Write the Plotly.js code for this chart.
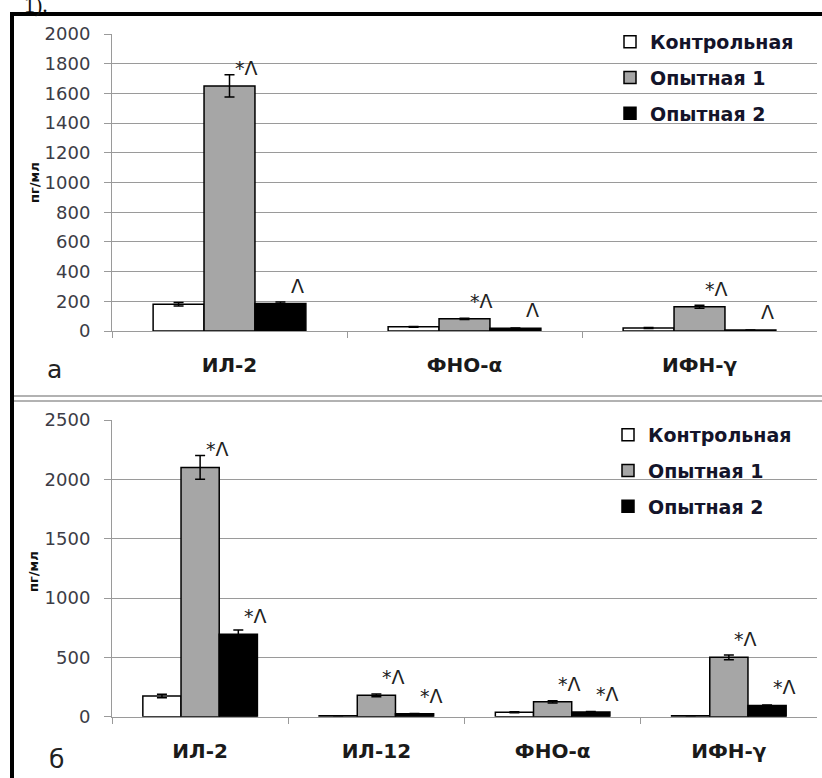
<!DOCTYPE html>
<html>
<head>
<meta charset="utf-8">
<script src="https://cdn.plot.ly/plotly-3.0.1.min.js"></script>
<style>html,body{margin:0;padding:0;background:#fff;}#chart{width:822px;height:778px;}</style>
</head>
<body>
<div id="chart"></div>
<script>
// ---- data ----
const seriesNames = ["Контрольная", "Опытная 1", "Опытная 2"];

const catsA = ["ИЛ-2", "ФНО-α", "ИФН-γ"];
const ctrlA = [180, 28, 20];
const ctrlAErr = [12, 3, 3];
const op1A = [1650, 82, 163];
const op1AErr = [75, 4, 10];
const op2A = [185, 18, 6];
const op2AErr = [10, 2, 1];
const sigA1 = ["*Λ", "*Λ", "*Λ"];
const sigA2 = ["Λ", "Λ", "Λ"];

const catsB = ["ИЛ-2", "ИЛ-12", "ФНО-α", "ИФН-γ"];
const ctrlB = [175, 8, 37, 8];
const ctrlBErr = [15, 1, 4, 1];
const op1B = [2100, 180, 125, 500];
const op1BErr = [100, 12, 10, 20];
const op2B = [695, 25, 40, 95];
const op2BErr = [35, 2, 3, 4];
const sigB1 = ["*Λ", "*Λ", "*Λ", "*Λ"];
const sigB2 = ["*Λ", "*Λ", "*Λ", "*Λ"];

const yTitle = "пг/мл";
const panelLabels = ["а", "б"];

// ---- helpers ----
const W = 822, H = 778;
const px = x => x / W;
const py = y => 1 - y / H;
const FONT = "DejaVu Sans, Verdana, sans-serif";
const BARGAP = 0.35;
const fills = ["#ffffff", "#a6a6a6", "#000000"];

function mkTrace(cats, vals, errs, k, panel) {
  const isB = panel === "b";
  return {
    type: "bar",
    x: cats,
    y: vals,
    name: seriesNames[k],
    xaxis: isB ? "x2" : "x",
    yaxis: isB ? "y2" : "y",
    legend: isB ? "legend2" : "legend",
    legendgroup: panel + k,
    marker: { color: fills[k], line: { color: "#000", width: 1.5 } },
    error_y: { type: "data", array: errs, visible: true, color: "#000", thickness: 1.5, width: 5 },
    hoverinfo: "x+y+name"
  };
}

const data = [
  mkTrace(catsA, ctrlA, ctrlAErr, 0, "a"),
  mkTrace(catsA, op1A, op1AErr, 1, "a"),
  mkTrace(catsA, op2A, op2AErr, 2, "a"),
  mkTrace(catsB, ctrlB, ctrlBErr, 0, "b"),
  mkTrace(catsB, op1B, op1BErr, 1, "b"),
  mkTrace(catsB, op2B, op2BErr, 2, "b")
];

const annotations = [];
const w = (1 - BARGAP) / 3;
function addSig(vals, labels, k, xref, yref) {
  vals.forEach((v, i) => {
    annotations.push({
      xref: xref, yref: yref, x: i + (k - 1) * w, y: v,
      text: labels[i], showarrow: false, yanchor: "bottom", xanchor: "center",
      xshift: 17, yshift: 5,
      font: { family: FONT, size: 19, color: "#222" }
    });
  });
}
addSig(op1A, sigA1, 1, "x", "y");
addSig(op2A, sigA2, 2, "x", "y");
addSig(op1B, sigB1, 1, "x2", "y2");
addSig(op2B, sigB2, 2, "x2", "y2");

// axis titles & panel labels
function paperText(x, y, text, font, angle) {
  annotations.push({ xref: "paper", yref: "paper", x: px(x), y: py(y), xanchor: "center", yanchor: "middle",
    text: text, textangle: angle || 0, showarrow: false, font: font });
}
const yTitleFont = { family: FONT, size: 13, weight: "bold", color: "#111" };
const panelFont = { family: FONT, size: 25, color: "#222" };
paperText(35, 183, yTitle, yTitleFont, -90);
paperText(33, 572, yTitle, yTitleFont, -90);
paperText(54, 370, panelLabels[0], panelFont);
paperText(56, 759, panelLabels[1], panelFont);
annotations.push({ xref: "paper", yref: "paper", x: px(22), y: 1, xanchor: "left", yanchor: "top", yshift: 10, text: "1).",
  showarrow: false, font: { family: "Liberation Serif, serif", size: 22, color: "#111" } });

const gridC = "#9a9a9a";
const tickFont = { family: FONT, size: 18, color: "#3c3c46" };
const catFont = { family: FONT, size: 20, weight: "bold", color: "#1a1a1a" };

function xAx(anchor) {
  return {
    domain: [px(112), px(817)], anchor: anchor, type: "category",
    showline: true, linecolor: gridC, linewidth: 1,
    ticks: "outside", tickson: "boundaries", ticklen: 6, tickcolor: gridC, tickwidth: 1,
    tickfont: catFont, ticklabelstandoff: 16, showgrid: false, zeroline: false, fixedrange: true
  };
}
function yAx(anchor, dom, range, dtick) {
  return {
    domain: dom, anchor: anchor, range: range, dtick: dtick, tick0: 0,
    showgrid: true, gridcolor: gridC, gridwidth: 1,
    showline: true, linecolor: gridC, linewidth: 1,
    ticks: "outside", ticklen: 7, tickcolor: gridC, tickwidth: 1,
    tickfont: tickFont, ticklabelstandoff: 10, zeroline: false, fixedrange: true
  };
}

const legendFont = { family: FONT, size: 19, weight: "bold", color: "#14142a" };

const layout = {
  width: W, height: H,
  margin: { l: 0, r: 0, t: 0, b: 0 },
  paper_bgcolor: "#fff", plot_bgcolor: "rgba(0,0,0,0)",
  barmode: "group", bargap: BARGAP, bargroupgap: 0,
  showlegend: true,
  xaxis: xAx("y"),
  yaxis: yAx("x", [py(331), py(34)], [0, 2000], 200),
  xaxis2: xAx("y2"),
  yaxis2: yAx("x2", [py(716.7), py(420)], [0, 2500], 500),
  legend: { x: px(610), y: py(23), xanchor: "left", yanchor: "top", bgcolor: "rgba(0,0,0,0)",
    font: legendFont, tracegroupgap: 8, traceorder: "grouped" },
  legend2: { x: px(608), y: py(416), xanchor: "left", yanchor: "top", bgcolor: "rgba(0,0,0,0)",
    font: legendFont, tracegroupgap: 8, traceorder: "grouped" },
  annotations: annotations,
  shapes: [
    { type: "line", xref: "paper", yref: "paper", x0: px(10), x1: 1, y0: py(14), y1: py(14), line: { color: "#000", width: 4 } },
    { type: "line", xref: "paper", yref: "paper", x0: px(12), x1: px(12), y0: py(12), y1: 0, line: { color: "#000", width: 4 } },
    { type: "line", xref: "paper", yref: "paper", x0: px(14), x1: 1, y0: py(396), y1: py(396), line: { color: "#999", width: 1.5 } },
    { type: "line", xref: "paper", yref: "paper", x0: px(14), x1: 1, y0: py(401), y1: py(401), line: { color: "#999", width: 1.5 } }
  ]
};

Plotly.newPlot("chart", data, layout, { displayModeBar: false, staticPlot: true });
</script>
</body>
</html>
